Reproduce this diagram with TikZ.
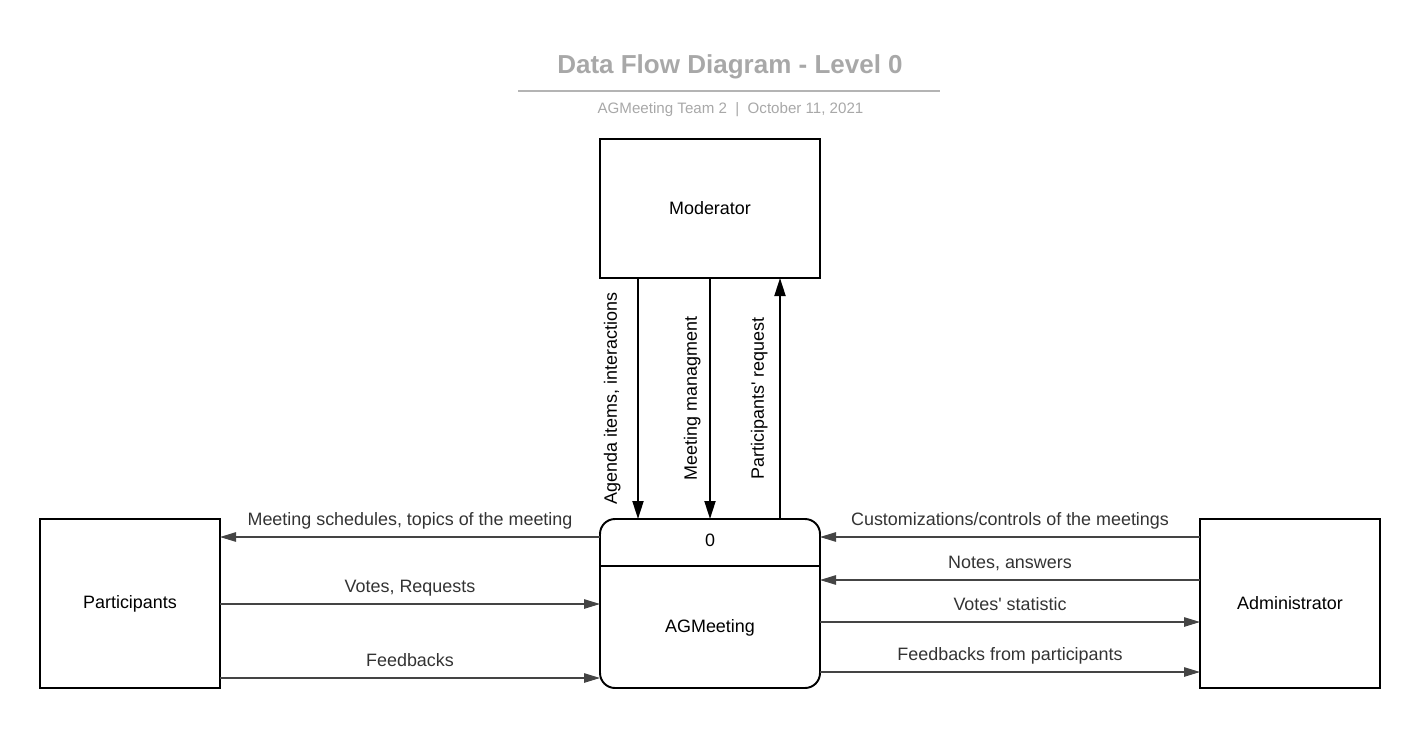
\documentclass[tikz,border=0pt]{standalone}
\usepackage{fontspec}
\setmainfont{Liberation Sans}
\usetikzlibrary{positioning}
\usetikzlibrary{arrows.meta}

\definecolor{titlegray}{HTML}{A8A8A8}
\definecolor{rulegray}{HTML}{B4B4B4}
\definecolor{flowgray}{HTML}{333333}
\definecolor{arrowgray}{HTML}{444444}

\begin{document}
\begin{tikzpicture}[
  entity/.style={draw, line width=1.1pt, outer sep=0pt, minimum width=3.6cm, minimum height=3.38cm, font=\fontsize{10.2}{12}\selectfont},
  process/.style={draw, line width=1.1pt, outer sep=0pt, rounded corners=0.3cm, minimum width=4.4cm, minimum height=3.38cm},
  flow/.style={line width=1.1pt, -{Triangle[length=0.36cm, width=0.22cm]}},
  dataflow/.style={draw=arrowgray, line width=0.6pt, -{Triangle[length=0.32cm, width=0.19cm, fill=arrowgray]}},
  lbl/.style={text=flowgray, font=\fontsize{10.2}{12}\selectfont, text height=0.75em, text depth=0.25em, inner sep=0pt},
  vlbl/.style={text=black, font=\fontsize{10.2}{12}\selectfont, text height=0.75em, text depth=0.25em, inner sep=0pt}
]
\useasboundingbox (0,0) rectangle (28.4,-14.58);

% Title
\node[font=\bfseries\fontsize{14.8}{18}\selectfont, text=titlegray] (title) at (14.6,-1.34) {Data Flow Diagram - Level 0};
\coordinate (rulel) at (10.36,-1.82);
\coordinate (ruler) at (18.8,-1.82);
\draw[rulegray, line width=1.1pt] (rulel) -- (ruler);
\node[font=\fontsize{8.6}{10}\selectfont, text=titlegray] (subtitle) at (14.61,-2.2) {AGMeeting Team 2\ \ |\ \ October 11, 2021};

% Define nodes
\node[process] (proc) at (14.2,-12.07) {};
\coordinate (split) at ([yshift=-0.94cm]proc.north);
\draw[line width=1.1pt] (proc.west |- split) -- (proc.east |- split);
\node[font=\fontsize{10.2}{12}\selectfont] (num) at ([yshift=-0.42cm]proc.north) {0};
\node[font=\fontsize{10.2}{12}\selectfont] (pname) at ([yshift=-2.18cm]proc.north) {AGMeeting};

\node[entity, minimum width=4.4cm, minimum height=2.78cm, above=4.82cm of proc] (mod) {Moderator};
\node[entity, left=7.6cm of proc] (part) {Participants};
\node[entity, right=7.6cm of proc] (admin) {Administrator};

% Moderator flows
\draw[flow] ([xshift=-1.44cm]mod.south) -- node[vlbl, midway, xshift=-0.51cm, rotate=90] (agenda) {Agenda items, interactions} ([xshift=-1.44cm]proc.north);
\draw[flow] (mod.south) -- node[vlbl, midway, xshift=-0.35cm, rotate=90] (manage) {Meeting managment} (proc.north);
\draw[flow] ([xshift=1.4cm]proc.north) -- node[vlbl, midway, xshift=-0.41cm, rotate=90] (request) {Participants\textquotesingle{} request} ([xshift=1.4cm]mod.south);

% Participants flows
\draw[dataflow] ([yshift=-0.36cm]proc.north west) -- node[lbl, midway, yshift=0.32cm] (sched) {Meeting schedules, topics of the meeting} ([yshift=-0.36cm]part.north east);
\draw[dataflow] ([yshift=-1.7cm]part.north east) -- node[lbl, midway, yshift=0.32cm] (votes) {Votes, Requests} ([yshift=-1.7cm]proc.north west);
\draw[dataflow] ([yshift=-3.18cm]part.north east) -- node[lbl, midway, yshift=0.32cm] (feed) {Feedbacks} ([yshift=-3.18cm]proc.north west);

% Administrator flows
\draw[dataflow] ([yshift=-0.36cm]admin.north west) -- node[lbl, midway, yshift=0.32cm] (custom) {Customizations/controls of the meetings} ([yshift=-0.36cm]proc.north east);
\draw[dataflow] ([yshift=-1.22cm]admin.north west) -- node[lbl, midway, yshift=0.32cm] (notes) {Notes, answers} ([yshift=-1.22cm]proc.north east);
\draw[dataflow] ([yshift=-2.06cm]proc.north east) -- node[lbl, midway, yshift=0.32cm] (stat) {Votes\textquotesingle{} statistic} ([yshift=-2.06cm]admin.north west);
\draw[dataflow] ([yshift=-3.06cm]proc.north east) -- node[lbl, midway, yshift=0.32cm] (feedadm) {Feedbacks from participants} ([yshift=-3.06cm]admin.north west);
\end{tikzpicture}
\end{document}
